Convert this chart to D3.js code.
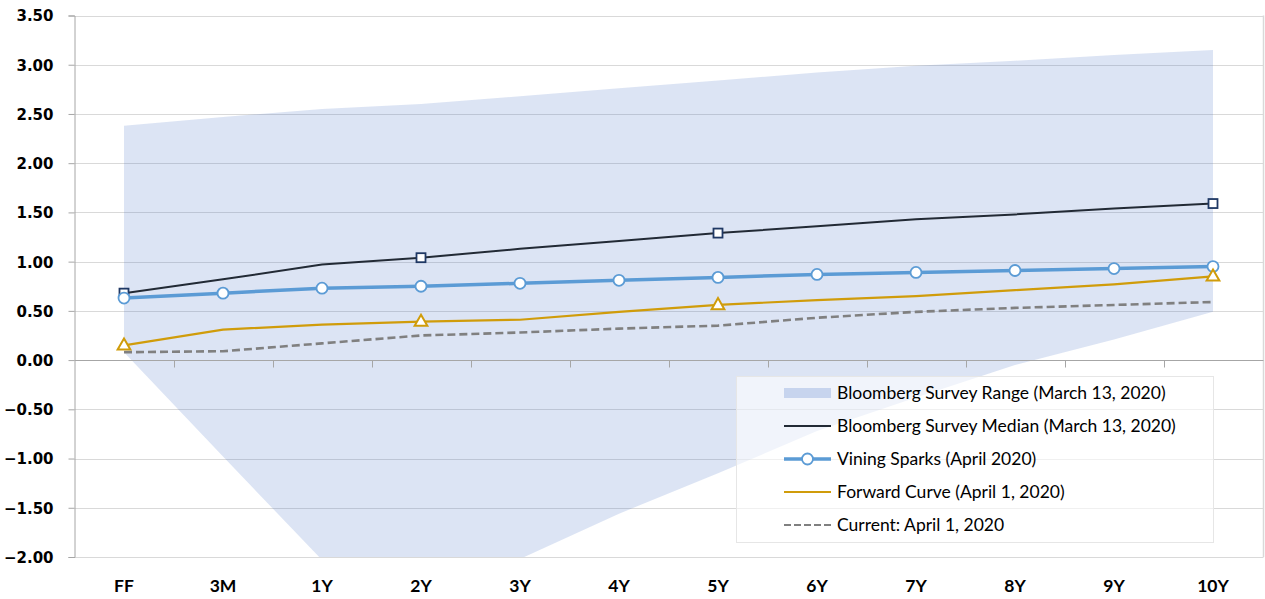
<!DOCTYPE html>
<html>
<head>
<meta charset="utf-8">
<script src="https://cdn.jsdelivr.net/npm/d3@7"></script>
<style>
  html, body { margin: 0; padding: 0; background: #ffffff; }
  svg { display: block; }
</style>
</head>
<body>
<svg id="chart" width="1265" height="599"></svg>
<script>
// ---- Data ----
const categories = ["FF","3M","1Y","2Y","3Y","4Y","5Y","6Y","7Y","8Y","9Y","10Y"];
const rangeHigh = [2.38, 2.47, 2.55, 2.60, 2.68, 2.76, 2.84, 2.92, 2.99, 3.04, 3.10, 3.15];
const rangeLow  = [0.08, -0.98, -2.03, -2.30, -2.02, -1.56, -1.15, -0.72, -0.38, -0.05, 0.21, 0.49];
const median    = [0.68, 0.82, 0.97, 1.04, 1.13, 1.21, 1.29, 1.36, 1.43, 1.48, 1.54, 1.59];
const vining    = [0.63, 0.68, 0.73, 0.75, 0.78, 0.81, 0.84, 0.87, 0.89, 0.91, 0.93, 0.95];
const forward   = [0.15, 0.31, 0.36, 0.39, 0.41, 0.49, 0.56, 0.61, 0.65, 0.71, 0.77, 0.85];
const current   = [0.08, 0.09, 0.17, 0.25, 0.28, 0.32, 0.35, 0.43, 0.49, 0.53, 0.56, 0.59];
const medianMarkerIdx  = [0, 3, 6, 11];
const forwardMarkerIdx = [0, 3, 6, 11];
const yTicks = [-2, -1.5, -1, -0.5, 0, 0.5, 1, 1.5, 2, 2.5, 3, 3.5];
const legendLabels = [
  "Bloomberg Survey Range (March 13, 2020)",
  "Bloomberg Survey Median (March 13, 2020)",
  "Vining Sparks (April 2020)",
  "Forward Curve (April 1, 2020)",
  "Current: April 1, 2020"
];

// ---- Layout ----
const L = 74.5, R = 1262.5, T = 15.5, B = 557;
const svg = d3.select("#chart");

const x = d3.scaleBand().domain(categories).range([L, R]).padding(0);
const cx = c => x(c) + x.bandwidth() / 2;
const y = d3.scaleLinear().domain([-2, 3.5]).range([B, T]);

const C = {
  grid: "#d9d9d9", axis: "#a6a6a6",
  area: "#4472c4", median: "#222a35", medianMk: "#1f3864",
  vining: "#5b9bd5", forward: "#d09c0a", current: "#808080"
};

svg.append("defs").append("clipPath").attr("id", "plotClip")
  .append("rect").attr("x", L).attr("y", T).attr("width", R - L + 1).attr("height", B - T);

// gridlines
svg.append("g").selectAll("line").data(yTicks.filter(v => v !== 0)).join("line")
  .attr("x1", L).attr("x2", R + 1)
  .attr("y1", d => Math.round(y(d)) + 0.5).attr("y2", d => Math.round(y(d)) + 0.5)
  .attr("stroke", C.grid).attr("stroke-width", 1);
// right border
svg.append("line").attr("x1", R + 1).attr("x2", R + 1).attr("y1", T).attr("y2", B)
  .attr("stroke", C.grid).attr("stroke-width", 1.5);

const plot = svg.append("g").attr("clip-path", "url(#plotClip)");

// range area
const area = d3.area()
  .x((d, i) => cx(categories[i]))
  .y0((d, i) => y(rangeLow[i]))
  .y1((d, i) => y(rangeHigh[i]));
plot.append("path").datum(rangeHigh).attr("d", area)
  .attr("fill", C.area).attr("fill-opacity", 0.19);

// y axis
const yAxis = svg.append("g").attr("transform", `translate(${L},0)`)
  .call(d3.axisLeft(y).tickValues(yTicks).tickSize(6).tickFormat(d3.format(".2f")));
yAxis.select(".domain").attr("stroke", C.axis);
yAxis.selectAll(".tick line").attr("stroke", C.axis);
yAxis.selectAll(".tick text")
  .attr("x", -21).attr("dy", "0.36em")
  .style("font-family", "'DejaVu Sans', Verdana, sans-serif")
  .style("font-weight", "bold").style("font-size", "15px").attr("fill", "#000");

// x axis at zero (ticks at band boundaries)
const zeroY = Math.round(y(0)) + 0.5;
svg.append("line").attr("x1", L).attr("x2", R + 1).attr("y1", zeroY).attr("y2", zeroY)
  .attr("stroke", C.axis).attr("stroke-width", 1);
svg.append("g").selectAll("line").data(categories.slice(1)).join("line")
  .attr("x1", d => Math.round(x(d)) + 0.5).attr("x2", d => Math.round(x(d)) + 0.5)
  .attr("y1", zeroY).attr("y2", zeroY + 7)
  .attr("stroke", C.axis);

// x labels at bottom
svg.append("g").selectAll("text").data(categories).join("text")
  .attr("x", d => cx(d)).attr("y", 592)
  .attr("text-anchor", "middle")
  .style("font-family", "Lato, 'Open Sans', sans-serif")
  .style("font-weight", "bold").style("font-size", "17.5px")
  .attr("fill", "#000").text(d => d);

// lines
const lineGen = d3.line().x((d, i) => cx(categories[i])).y(d => y(d));
plot.append("path").datum(median).attr("d", lineGen)
  .attr("fill", "none").attr("stroke", C.median).attr("stroke-width", 2);
plot.append("path").datum(vining).attr("d", lineGen)
  .attr("fill", "none").attr("stroke", C.vining).attr("stroke-width", 3.5);
plot.append("path").datum(forward).attr("d", lineGen)
  .attr("fill", "none").attr("stroke", C.forward).attr("stroke-width", 2.2);
plot.append("path").datum(current).attr("d", lineGen)
  .attr("fill", "none").attr("stroke", C.current).attr("stroke-width", 2.6)
  .attr("stroke-dasharray", "8,4");

// markers
svg.append("g").selectAll("rect").data(medianMarkerIdx).join("rect")
  .attr("x", i => cx(categories[i]) - 4.5).attr("y", i => y(median[i]) - 4.5)
  .attr("width", 9).attr("height", 9)
  .attr("fill", "#fff").attr("stroke", C.medianMk).attr("stroke-width", 1.8);
svg.append("g").selectAll("circle").data(vining).join("circle")
  .attr("cx", (d, i) => cx(categories[i])).attr("cy", d => y(d)).attr("r", 5.5)
  .attr("fill", "#fff").attr("stroke", C.vining).attr("stroke-width", 1.8);
const tri = d3.symbol().type(d3.symbolTriangle).size(70);
svg.append("g").selectAll("path").data(forwardMarkerIdx).join("path")
  .attr("d", tri)
  .attr("transform", i => `translate(${cx(categories[i])},${y(forward[i]) + 0.5})`)
  .attr("fill", "#fff").attr("stroke", C.forward).attr("stroke-width", 2);

// legend
const lg = svg.append("g");
lg.append("rect").attr("x", 736.5).attr("y", 376.5).attr("width", 477).attr("height", 166)
  .attr("fill", "#fff").attr("fill-opacity", 0.6).attr("stroke", "#e6e6e6");
const rowY = [393, 426, 459, 492, 525];
const sx1 = 784, sx2 = 831, tx = 837;
lg.append("rect").attr("x", sx1).attr("y", rowY[0] - 5).attr("width", sx2 - sx1).attr("height", 10)
  .attr("fill", C.area).attr("fill-opacity", 0.24);
lg.append("line").attr("x1", sx1).attr("x2", sx2).attr("y1", rowY[1]).attr("y2", rowY[1])
  .attr("stroke", C.median).attr("stroke-width", 2);
lg.append("line").attr("x1", sx1).attr("x2", sx2).attr("y1", rowY[2]).attr("y2", rowY[2])
  .attr("stroke", C.vining).attr("stroke-width", 3.5);
lg.append("circle").attr("cx", (sx1 + sx2) / 2).attr("cy", rowY[2]).attr("r", 5.5)
  .attr("fill", "#fff").attr("stroke", C.vining).attr("stroke-width", 1.8);
lg.append("line").attr("x1", sx1).attr("x2", sx2).attr("y1", rowY[3]).attr("y2", rowY[3])
  .attr("stroke", C.forward).attr("stroke-width", 2.2);
lg.append("line").attr("x1", sx1).attr("x2", sx2).attr("y1", rowY[4]).attr("y2", rowY[4])
  .attr("stroke", C.current).attr("stroke-width", 2.2).attr("stroke-dasharray", "7,3");
lg.selectAll("text.lab").data(legendLabels).join("text").attr("class", "lab")
  .attr("x", tx).attr("y", (d, i) => rowY[i]).attr("dy", "0.35em")
  .style("font-family", "Lato, 'Open Sans', sans-serif").style("font-size", "17.5px")
  .attr("fill", "#000").text(d => d);
</script>
</body>
</html>
